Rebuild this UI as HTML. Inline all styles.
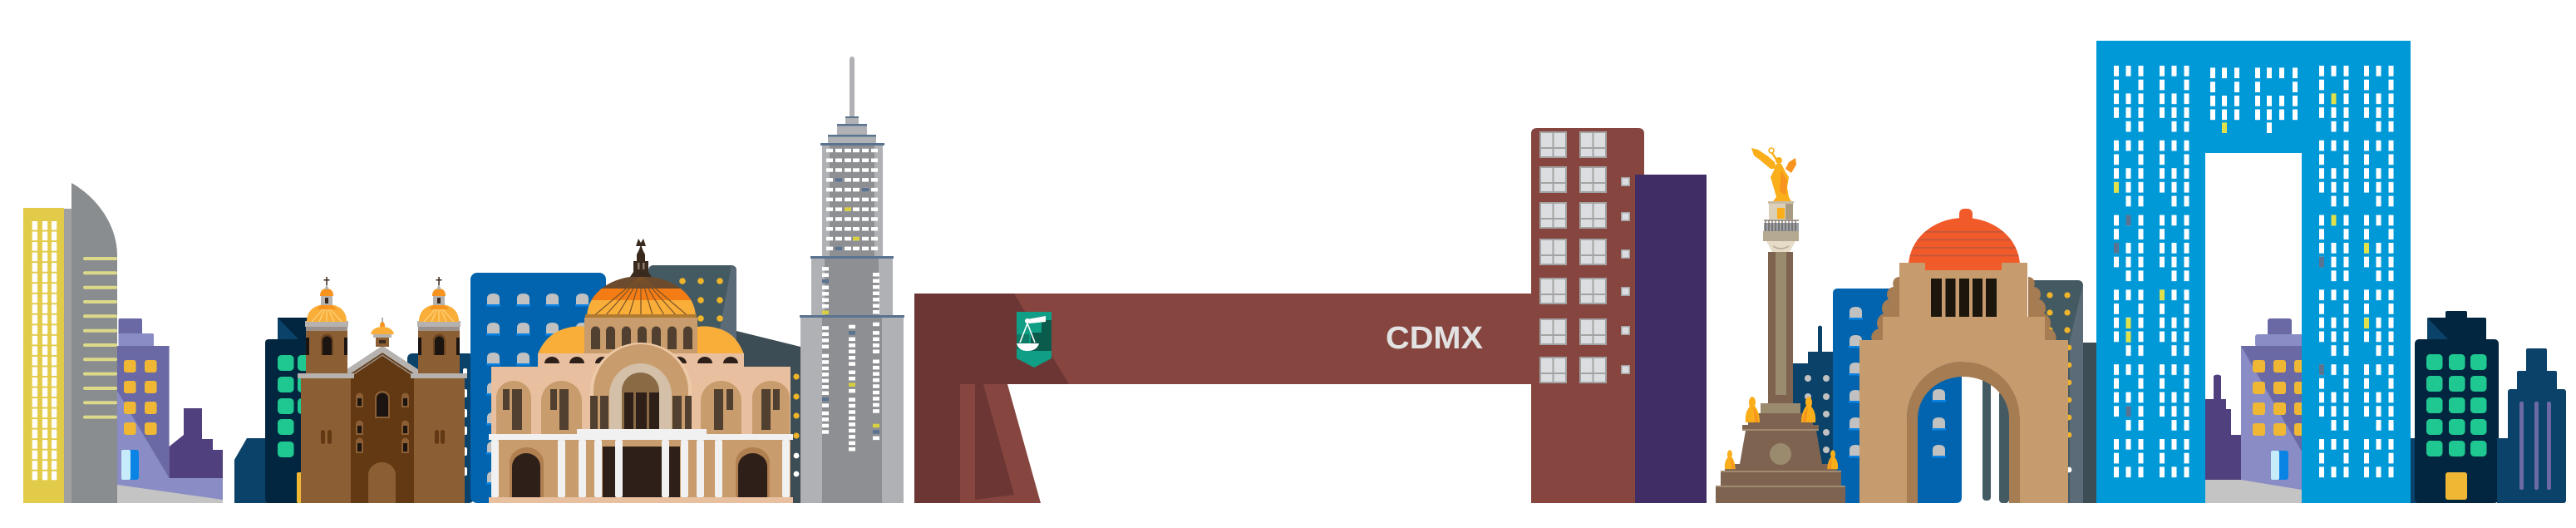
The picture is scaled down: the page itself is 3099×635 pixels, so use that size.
<!DOCTYPE html>
<html><head><meta charset="utf-8"><style>
html,body{margin:0;padding:0;background:#fff;}
svg{display:block;}
</style></head><body>
<svg xmlns="http://www.w3.org/2000/svg" width="3099" height="635" viewBox="0 0 3099 635">
<defs>
<pattern id="yw" patternUnits="userSpaceOnUse" width="200" height="12.53">
<rect x="0" y="0" width="6.4" height="10.6" fill="#fff"/><rect x="12.4" y="0" width="6.2" height="10.6" fill="#fff"/><rect x="23.4" y="0" width="6.2" height="10.6" fill="#fff"/>
</pattern>
<pattern id="aw" patternUnits="userSpaceOnUse" width="200" height="89.8">
<rect x="0" y="0" width="6" height="12.7" fill="#fff"/><rect x="0" y="16.7" width="6" height="12.7" fill="#fff"/><rect x="0" y="33.4" width="6" height="12.7" fill="#fff"/><rect x="0" y="50.1" width="6" height="12.7" fill="#fff"/>
<rect x="14.5" y="0" width="6" height="12.7" fill="#fff"/><rect x="14.5" y="33.4" width="6" height="12.7" fill="#fff"/><rect x="14.5" y="50.1" width="6" height="12.7" fill="#fff"/><rect x="14.5" y="66.8" width="6" height="12.7" fill="#fff"/>
<rect x="29.5" y="0" width="6" height="12.7" fill="#fff"/><rect x="29.5" y="16.7" width="6" height="12.7" fill="#fff"/><rect x="29.5" y="33.4" width="6" height="12.7" fill="#fff"/><rect x="29.5" y="50.1" width="6" height="12.7" fill="#fff"/><rect x="29.5" y="66.8" width="6" height="12.7" fill="#fff"/>
</pattern>
<pattern id="tw" patternUnits="userSpaceOnUse" width="200" height="11.79">
<rect x="0" y="0" width="8" height="4.5" fill="#fff"/><rect x="11" y="0" width="8" height="4.5" fill="#fff"/><rect x="22" y="0" width="8" height="4.5" fill="#fff"/><rect x="32" y="0" width="8" height="4.5" fill="#fff"/><rect x="43" y="0" width="8" height="4.5" fill="#fff"/><rect x="54" y="0" width="8" height="4.5" fill="#fff"/>
</pattern>
<g id="mw"><rect x="0" y="0" width="33" height="32" fill="#a3a3a3"/><rect x="2" y="2" width="13.5" height="17" fill="#dcdde0"/><rect x="17.5" y="2" width="13.5" height="17" fill="#dcdde0"/><rect x="2" y="21" width="13.5" height="9" fill="#dcdde0"/><rect x="17.5" y="21" width="13.5" height="9" fill="#dcdde0"/></g>
<g id="sq"><rect x="0" y="0" width="11" height="11" fill="#a3a3a3"/><rect x="1.5" y="1.5" width="8" height="8" fill="#dcdde0"/></g>
<g id="gw"><path d="M0,14 V6 Q0,0 7.5,0 Q15,0 15,6 V14 Z" fill="#c1c1c1"/><rect x="-1" y="13" width="17" height="2.5" fill="#0a84e4"/></g>
<g id="gn"><rect x="0" y="0" width="19.5" height="19" rx="4.5" fill="#20c891"/></g>
<g id="st"><path d="M0,38 C-1,28 2,22 5,19 C3,15 4,8 8,7 C12,8 13,14 11,18 C15,23 17,30 17,38 Z" fill="#f9ae1a"/><path d="M9,20 C13,24 15,31 15,38 L11,38 C11,31 10,25 9,20 Z" fill="#f7931e"/></g>
<clipPath id="dc"><path d="M706,382 C706,352 736,332 771,332 C806,332 837,352 837,382 Z"/></clipPath>
<clipPath id="rc"><path d="M2296,318 C2298,285 2328,262 2363,262 C2398,262 2428,285 2430,318 L2430,330 L2296,330 Z"/></clipPath>
</defs>

<!-- ================= LEFT GROUP ================= -->
<path d="M86,605 L86,220 C118,238 141,272 141,307 L141,605 Z" fill="#8a8d8f"/>
<g fill="#dcd98a">
<rect x="100" y="309" width="41" height="4" rx="2"/><rect x="100" y="326.3" width="41" height="4" rx="2"/><rect x="100" y="343.7" width="41" height="4" rx="2"/><rect x="100" y="361" width="41" height="4" rx="2"/><rect x="100" y="378.3" width="41" height="4" rx="2"/><rect x="100" y="395.7" width="41" height="4" rx="2"/><rect x="100" y="413" width="41" height="4" rx="2"/><rect x="100" y="430.3" width="41" height="4" rx="2"/><rect x="100" y="447.6" width="41" height="4" rx="2"/><rect x="100" y="465" width="41" height="4" rx="2"/><rect x="100" y="482.3" width="41" height="4" rx="2"/><rect x="100" y="499.6" width="41" height="4" rx="2"/>
</g>
<rect x="77" y="251" width="9" height="354" fill="#a0a0a0"/>
<rect x="28" y="250" width="49" height="355" fill="#e3cb4a"/>
<rect x="0" y="0" width="31" height="312" fill="url(#yw)" transform="translate(38.6,266)"/>

<!-- purple building -->
<rect x="142.5" y="383" width="28.5" height="20" rx="2" fill="#6a69a5"/>
<rect x="142.5" y="401" width="42.5" height="16" rx="2" fill="#8a8cc5"/>
<rect x="141" y="416" width="62.6" height="189" fill="#6a69a5"/>
<polygon points="141,470 203.6,575 268,575 268,605 141,605" fill="#8a8cc5"/>
<path d="M203.6,575 L203.6,537 L221,523 L221,491 L243,491 L243,528 L256,528 L256,541 L268,541 L268,575 Z" fill="#50407e"/>
<polygon points="141,583 268,601 268,605 141,605" fill="#c4c4c4"/>
<g fill="#efb734">
<rect x="149" y="433" width="14.6" height="15" rx="3"/><rect x="174" y="433" width="14.6" height="15" rx="3"/>
<rect x="149" y="458" width="14.6" height="15" rx="3"/><rect x="174" y="458" width="14.6" height="15" rx="3"/>
<rect x="149" y="483" width="14.6" height="15" rx="3"/><rect x="174" y="483" width="14.6" height="15" rx="3"/>
<rect x="149" y="508" width="14.6" height="15" rx="3"/><rect x="174" y="508" width="14.6" height="15" rx="3"/>
</g>
<rect x="146" y="541" width="21" height="36" rx="3" fill="#0a84e4"/>
<rect x="146" y="541" width="11" height="36" rx="2" fill="#c6ebfb"/>

<!-- navy group behind church -->
<path d="M282,605 L282,553 L297,527 L345,527 L345,605 Z" fill="#0b4269"/>
<rect x="319" y="408" width="60" height="197" rx="4" fill="#02263f"/>
<rect x="334" y="382" width="37" height="30" fill="#02263f"/>
<polygon points="334,382 359,408 334,408" fill="#0b4269"/>
<use href="#gn" x="334" y="427"/><use href="#gn" x="334" y="453"/><use href="#gn" x="334" y="479"/><use href="#gn" x="334" y="504"/><use href="#gn" x="334" y="531"/>
<use href="#gn" x="358" y="427"/><use href="#gn" x="358" y="453"/><use href="#gn" x="358" y="479"/>
<rect x="357" y="568" width="8" height="37" rx="2" fill="#efb734"/>
<rect x="490" y="425" width="80" height="180" rx="6" fill="#0b4269"/>
<g fill="#fff"><rect x="557" y="443" width="5" height="10" rx="2"/><rect x="557" y="468" width="5" height="10" rx="2"/><rect x="557" y="492" width="5" height="10" rx="2"/><rect x="557" y="513" width="5" height="10" rx="2"/><rect x="557" y="538" width="5" height="10" rx="2"/><rect x="557" y="562" width="5" height="10" rx="2"/></g>

<!-- church -->
<polygon points="422,605 422,449 460,424 498,449 498,605" fill="#623913"/>
<polyline points="413,451 460,420 507,451" fill="none" stroke="#b5b2af" stroke-width="7"/>
<polyline points="418,455 460,427 502,455" fill="none" stroke="#9b908a" stroke-width="1.5"/>
<!-- small center dome -->
<rect x="452" y="406" width="16" height="11" fill="#8b5e34"/><rect x="456" y="409" width="8" height="4" fill="#3a2a1e"/>
<rect x="449" y="401" width="22" height="5" fill="#b5b2af"/>
<path d="M446,402 C447,396 453,393 460,393 C467,393 473,396 474,402 Z" fill="#f9ae3a"/>
<path d="M457,393 C457,389 458,387 460,387 C462,387 463,389 463,393 Z" fill="#f7931e"/>
<rect x="459.3" y="382" width="1.4" height="6" fill="#8a8a8a"/>
<!-- left tower -->
<g id="tw1">
<rect x="368" y="398" width="50" height="52" fill="#8b5e34"/>
<path d="M386,427 V409 A7.5,7.5 0 0 1 401,409 V427 Z" fill="#6b4520"/>
<path d="M388,427 V410 A5.5,5.5 0 0 1 399,410 V427 Z" fill="#1c1410"/>
<rect x="368" y="406" width="4" height="21" fill="#1c1410"/><rect x="414" y="406" width="4" height="21" fill="#1c1410"/>
<rect x="367" y="386" width="52" height="7" fill="#b5b2af"/>
<rect x="368" y="393" width="50" height="5" fill="#9b908a"/>
<path d="M369,387 C369,372 380,366 393,366 C406,366 417,372 417,387 Z" fill="#f9ae3a"/>
<g stroke="#fcd27a" stroke-width="1.3"><line x1="393" y1="367" x2="375" y2="387"/><line x1="393" y1="367" x2="384" y2="387"/><line x1="393" y1="367" x2="393" y2="387"/><line x1="393" y1="367" x2="402" y2="387"/><line x1="393" y1="367" x2="411" y2="387"/></g>
<path d="M381,372 C384,368 388,366 393,366 C398,366 402,368 405,372 Z" fill="#f7931e"/>
<rect x="386" y="355" width="14" height="12" fill="#b5b2af"/><rect x="391" y="358" width="4" height="7" fill="#3a2a1e"/>
<path d="M385,356 C385,349 389,347 393,347 C397,347 401,349 401,356 Z" fill="#f7931e"/>
<path d="M390.5,348 L393,341 L395.5,348 Z" fill="#b5b2af"/>
<rect x="392.3" y="333" width="1.5" height="10" fill="#3a2a1e"/><rect x="389.5" y="336" width="7" height="1.5" fill="#3a2a1e"/>
</g>
<use href="#tw1" x="135" y="0"/>
<rect x="358" y="449" width="68" height="6" fill="#b5b2af"/>
<rect x="494" y="449" width="68" height="6" fill="#b5b2af"/>
<rect x="362" y="455" width="60" height="150" fill="#8b5e34"/>
<rect x="498" y="455" width="61" height="150" fill="#8b5e34"/>
<g fill="#623913">
<rect x="386" y="517" width="5" height="17" rx="2.5"/><rect x="394" y="517" width="5" height="17" rx="2.5"/>
<rect x="523" y="517" width="5" height="17" rx="2.5"/><rect x="530" y="517" width="5" height="17" rx="2.5"/>
</g>
<path d="M451,503 V478 A9,8 0 0 1 469,478 V503 Z" fill="#8b5e34"/>
<path d="M453,501 V479 A7,6.5 0 0 1 467,479 V501 Z" fill="#1c1410"/>
<g fill="#8b5e34">
<path d="M428,490 V477 A4.5,4.5 0 0 1 437,477 V490 Z"/><path d="M483,490 V477 A4.5,4.5 0 0 1 492,477 V490 Z"/>
<path d="M428,523 V510 A4.5,4.5 0 0 1 437,510 V523 Z"/><path d="M483,523 V510 A4.5,4.5 0 0 1 492,510 V523 Z"/>
<path d="M428,545 V531 A4.5,4.5 0 0 1 437,531 V545 Z"/><path d="M483,545 V531 A4.5,4.5 0 0 1 492,531 V545 Z"/>
</g>
<g fill="#1c1410">
<rect x="430" y="479" width="5" height="9"/><rect x="485" y="479" width="5" height="9"/>
<rect x="430" y="512" width="5" height="9"/><rect x="485" y="512" width="5" height="9"/>
<rect x="430" y="533" width="5" height="10"/><rect x="485" y="533" width="5" height="10"/>
</g>
<path d="M443,605 V571 A16.5,15 0 0 1 476,571 V605 Z" fill="#8b5e34"/>

<!-- blue building -->
<rect x="566" y="328" width="163" height="277" rx="8" fill="#0263ae"/>
<use href="#gw" x="586" y="353"/><use href="#gw" x="622" y="353"/><use href="#gw" x="657" y="353"/><use href="#gw" x="693" y="353"/>
<use href="#gw" x="586" y="388"/><use href="#gw" x="622" y="388"/><use href="#gw" x="657" y="388"/><use href="#gw" x="693" y="388"/>
<use href="#gw" x="586" y="424"/><use href="#gw" x="622" y="424"/><use href="#gw" x="657" y="424"/><use href="#gw" x="693" y="424"/>
<use href="#gw" x="586" y="460"/><use href="#gw" x="586" y="496"/><use href="#gw" x="586" y="531"/><use href="#gw" x="586" y="567"/>

<!-- slate buildings -->
<rect x="780" y="319" width="106" height="286" rx="6" fill="#445a63"/>
<polygon points="880,319 886,325 886,441 858,441" fill="#5b6b78"/>
<g fill="#f0b429"><circle cx="821" cy="338" r="3.8"/><circle cx="843" cy="338" r="3.8"/><circle cx="866" cy="338" r="3.8"/><circle cx="821" cy="361" r="3.8"/><circle cx="843" cy="361" r="3.8"/><circle cx="866" cy="361" r="3.8"/><circle cx="821" cy="383" r="3.8"/><circle cx="843" cy="383" r="3.8"/><circle cx="866" cy="383" r="3.8"/></g>
<polygon points="886,398 963,417 963,605 886,605" fill="#3d4d55"/>
<g fill="#f0b429"><circle cx="958" cy="453" r="3.6"/><circle cx="958" cy="477" r="3.6"/><circle cx="958" cy="500" r="3.6"/><circle cx="958" cy="524" r="3.6"/></g>
<g fill="#fff"><circle cx="958" cy="548" r="3.4"/><circle cx="958" cy="570" r="3.4"/></g>

<!-- Palacio de Bellas Artes -->
<path d="M647,426 C652,413 662,400 680,395 C690,392 698,392 703,393 L703,426 Z" fill="#f9ae3a"/>
<path d="M839,393 C846,392 854,392 864,395 C882,400 890,413 895,426 L839,426 Z" fill="#f9ae3a"/>
<rect x="703" y="382" width="136" height="44" fill="#c89c6c"/>
<g fill="#51402f">
<path d="M711,420 V398 A5.5,5.5 0 0 1 722,398 V420 Z"/><path d="M729,420 V398 A5.5,5.5 0 0 1 740,398 V420 Z"/><path d="M748,420 V398 A5.5,5.5 0 0 1 759,398 V420 Z"/><path d="M767,420 V398 A5.5,5.5 0 0 1 778,398 V420 Z"/><path d="M784,420 V398 A5.5,5.5 0 0 1 795,398 V420 Z"/><path d="M803,420 V398 A5.5,5.5 0 0 1 814,398 V420 Z"/><path d="M822,420 V398 A5.5,5.5 0 0 1 833,398 V420 Z"/>
</g>
<g clip-path="url(#dc)">
<rect x="700" y="330" width="140" height="17" fill="#6b4a2e"/>
<rect x="700" y="347" width="140" height="14" fill="#f47c14"/>
<rect x="700" y="361" width="140" height="22" fill="#f9ae3a"/>
<g stroke="#7a5228" stroke-width="1.2"><line x1="771" y1="332" x2="712" y2="382"/><line x1="771" y1="332" x2="726" y2="382"/><line x1="771" y1="332" x2="741" y2="382"/><line x1="771" y1="332" x2="756" y2="382"/><line x1="771" y1="332" x2="771" y2="382"/><line x1="771" y1="332" x2="786" y2="382"/><line x1="771" y1="332" x2="801" y2="382"/><line x1="771" y1="332" x2="816" y2="382"/><line x1="771" y1="332" x2="830" y2="382"/></g>
</g>
<rect x="704" y="378" width="134" height="4" fill="#b07a30"/>
<path d="M758,333 L762,327 L762,314 L766,314 L766,306 L769,300 L771,294 L773,300 L776,306 L776,314 L780,314 L780,327 L784,333 Z" fill="#3a2a1e"/>
<path d="M765,296 L768,287 L771,292 L774,287 L777,296 Z" fill="#3a2a1e"/>
<rect x="767" y="316" width="2.5" height="8" fill="#8a7a6a"/><rect x="773" y="316" width="2.5" height="8" fill="#8a7a6a"/>
<rect x="647" y="425" width="248" height="17" fill="#e8c0a0"/>
<g fill="#2e2019">
<path d="M655,437 A9,8 0 0 1 673,437 Z"/><path d="M685,437 A9,8 0 0 1 703,437 Z"/><path d="M716,437 A9,8 0 0 1 734,437 Z"/><path d="M808,437 A9,8 0 0 1 826,437 Z"/><path d="M839,437 A9,8 0 0 1 857,437 Z"/><path d="M870,437 A9,8 0 0 1 888,437 Z"/>
</g>
<rect x="591" y="441" width="360" height="164" fill="#e8c0a0"/>
<path d="M710,522 V470 A61,58 0 0 1 832,470 V522 Z" fill="#eec9a8"/>
<path d="M714,522 V470 A57,56 0 0 1 828,470 V522 Z" fill="#c89c6c"/>
<path d="M733,522 V475 A37.5,38 0 0 1 808,475 V522 Z" fill="#d4c0a8"/>
<path d="M748,522 V470 A22.5,22 0 0 1 793,470 V522 Z" fill="#8a6a45"/>
<g fill="#2e2019"><rect x="751" y="472" width="11" height="50"/><rect x="765" y="472" width="13" height="50"/><rect x="781" y="472" width="12" height="50"/></g>
<g fill="#51402f"><rect x="710" y="476" width="9" height="41"/><rect x="722" y="476" width="10" height="41"/><rect x="809" y="476" width="11" height="41"/><rect x="824" y="476" width="8" height="41"/></g>
<g fill="#c89c6c">
<path d="M597,522 V478 A21,20 0 0 1 639,478 V522 Z"/><path d="M651,522 V482 A24.5,24 0 0 1 700,482 V522 Z"/><path d="M843,522 V482 A24.5,24 0 0 1 892,482 V522 Z"/><path d="M905,522 V478 A22.5,20 0 0 1 950,478 V522 Z"/>
</g>
<g fill="#51402f">
<rect x="605" y="468" width="8" height="25"/><rect x="616" y="468" width="12" height="49"/>
<rect x="662" y="468" width="8" height="25"/><rect x="673" y="468" width="11" height="49"/>
<rect x="859" y="468" width="11" height="49"/><rect x="874" y="468" width="8" height="25"/>
<rect x="916" y="468" width="11" height="49"/><rect x="930" y="468" width="8" height="25"/>
</g>
<rect x="591" y="529" width="360" height="69" fill="#c89c6c"/>
<rect x="725" y="537" width="93" height="61" fill="#2e2019"/>
<path d="M613,598 V556 A20.5,18 0 0 1 654,556 V598 Z" fill="#b08050"/>
<path d="M616,598 V561 A17,16 0 0 1 650,561 V598 Z" fill="#2e2019"/>
<path d="M885,598 V556 A20.5,18 0 0 1 926,556 V598 Z" fill="#b08050"/>
<path d="M888,598 V561 A17.5,16 0 0 1 923,561 V598 Z" fill="#2e2019"/>
<rect x="588" y="522" width="366" height="7" fill="#f1f1f1"/>
<rect x="694" y="516" width="156" height="7" fill="#f1f1f1"/>
<g fill="#f1f1f1">
<rect x="591" y="529" width="9" height="69" rx="2"/><rect x="671" y="529" width="9" height="69" rx="2"/><rect x="696" y="529" width="9" height="69" rx="2"/><rect x="715" y="529" width="9" height="69" rx="2"/><rect x="740" y="529" width="9" height="69" rx="2"/><rect x="796" y="529" width="9" height="69" rx="2"/><rect x="819" y="529" width="9" height="69" rx="2"/><rect x="838" y="529" width="9" height="69" rx="2"/><rect x="860" y="529" width="9" height="69" rx="2"/><rect x="941" y="529" width="9" height="69" rx="2"/>
</g>
<rect x="588" y="598" width="366" height="7" fill="#e8c0a0"/>

<!-- Torre Latinoamericana -->
<rect x="1022" y="68" width="6" height="76" rx="3" fill="#b0b1b5"/>
<rect x="1017" y="140" width="16" height="10" fill="#b0b1b5"/><rect x="1017" y="140" width="16" height="2" fill="#5a7390"/>
<rect x="1007" y="149" width="36" height="14" fill="#b0b1b5"/><rect x="1007" y="149" width="36" height="2.5" fill="#5a7390"/>
<rect x="996" y="162" width="58" height="12" fill="#b0b1b5"/><rect x="996" y="162" width="58" height="2.5" fill="#5a7390"/>
<rect x="989" y="173" width="73" height="137" fill="#b0b1b5"/>
<rect x="998" y="175" width="54" height="135" fill="#8e8f93"/>
<rect x="987" y="172" width="77" height="3" fill="#5a7390"/>
<rect x="976" y="309" width="98" height="72" fill="#b0b1b5"/>
<rect x="992" y="311" width="65" height="70" fill="#8e8f93"/>
<rect x="975" y="308" width="100" height="3" fill="#5a7390"/>
<rect x="963" y="380" width="124" height="225" fill="#b0b1b5"/>
<rect x="989" y="382" width="72" height="223" fill="#8e8f93"/>
<rect x="962" y="379" width="126" height="3" fill="#5a7390"/>
<rect x="0" y="0" width="62" height="123" fill="url(#tw)" transform="translate(994,178.7)"/>
<g fill="#5a7390"><rect x="1005" y="214.1" width="8" height="4.5"/><rect x="1037" y="225.9" width="8" height="4.5"/><rect x="1005" y="296.6" width="8" height="4.5"/></g>
<g fill="#d8d040"><rect x="1016" y="249.4" width="8" height="4.5"/><rect x="1026" y="284.8" width="8" height="4.5"/></g>
<g fill="#fff">
<rect x="989" y="321" width="8" height="4.5"/><rect x="989" y="328.5" width="8" height="4.5"/><rect x="989" y="343.5" width="8" height="4.5"/><rect x="989" y="351" width="8" height="4.5"/><rect x="989" y="358.5" width="8" height="4.5"/><rect x="989" y="366" width="8" height="4.5"/>
<rect x="1050" y="328" width="8" height="4.5"/><rect x="1050" y="335.5" width="8" height="4.5"/><rect x="1050" y="343" width="8" height="4.5"/><rect x="1050" y="350.5" width="8" height="4.5"/><rect x="1050" y="358" width="8" height="4.5"/><rect x="1050" y="365.5" width="8" height="4.5"/><rect x="1050" y="373" width="8" height="4.5"/>
<rect x="989" y="392.2" width="8" height="4.5"/><rect x="989" y="399.6" width="8" height="4.5"/><rect x="989" y="407.1" width="8" height="4.5"/><rect x="989" y="414.6" width="8" height="4.5"/><rect x="989" y="425.7" width="8" height="4.5"/><rect x="989" y="433.2" width="8" height="4.5"/><rect x="989" y="440.7" width="8" height="4.5"/><rect x="989" y="448.1" width="8" height="4.5"/><rect x="989" y="455.6" width="8" height="4.5"/><rect x="989" y="463.1" width="8" height="4.5"/><rect x="989" y="470.5" width="8" height="4.5"/><rect x="989" y="485.4" width="8" height="4.5"/><rect x="989" y="494.8" width="8" height="4.5"/><rect x="989" y="502.2" width="8" height="4.5"/><rect x="989" y="509.7" width="8" height="4.5"/><rect x="989" y="517.2" width="8" height="4.5"/>
<rect x="1021" y="390.7" width="8" height="4.5"/><rect x="1021" y="405.6" width="8" height="4.5"/><rect x="1021" y="413.1" width="8" height="4.5"/><rect x="1021" y="420.5" width="8" height="4.5"/><rect x="1021" y="428" width="8" height="4.5"/><rect x="1021" y="435.4" width="8" height="4.5"/><rect x="1021" y="445.5" width="8" height="4.5"/><rect x="1021" y="453" width="8" height="4.5"/><rect x="1021" y="467.9" width="8" height="4.5"/><rect x="1021" y="478.4" width="8" height="4.5"/><rect x="1021" y="485.8" width="8" height="4.5"/><rect x="1021" y="493.3" width="8" height="4.5"/><rect x="1021" y="500.7" width="8" height="4.5"/><rect x="1021" y="508.2" width="8" height="4.5"/><rect x="1021" y="515.7" width="8" height="4.5"/><rect x="1021" y="523.1" width="8" height="4.5"/><rect x="1021" y="530.6" width="8" height="4.5"/><rect x="1021" y="538" width="8" height="4.5"/>
<rect x="1050" y="387.7" width="8" height="4.5"/><rect x="1050" y="398.1" width="8" height="4.5"/><rect x="1050" y="405.6" width="8" height="4.5"/><rect x="1050" y="413.1" width="8" height="4.5"/><rect x="1050" y="420.5" width="8" height="4.5"/><rect x="1050" y="432.5" width="8" height="4.5"/><rect x="1050" y="439.9" width="8" height="4.5"/><rect x="1050" y="447.4" width="8" height="4.5"/><rect x="1050" y="454.9" width="8" height="4.5"/><rect x="1050" y="462.3" width="8" height="4.5"/><rect x="1050" y="469.8" width="8" height="4.5"/><rect x="1050" y="477.2" width="8" height="4.5"/><rect x="1050" y="484.7" width="8" height="4.5"/><rect x="1050" y="492.2" width="8" height="4.5"/><rect x="1050" y="524.6" width="8" height="4.5"/>
</g>
<g fill="#5a7390"><rect x="989" y="336" width="8" height="4.5"/><rect x="989" y="478" width="8" height="4.5"/><rect x="1021" y="398.1" width="8" height="4.5"/><rect x="1050" y="517.2" width="8" height="4.5"/></g>
<g fill="#d8d040"><rect x="989" y="373.5" width="8" height="4.5"/><rect x="1021" y="460.4" width="8" height="4.5"/><rect x="1050" y="509.7" width="8" height="4.5"/></g>

<!-- CDMX arch -->
<rect x="1100" y="353" width="750" height="109" fill="#86463f"/>
<polygon points="1100,353 1220,353 1286,462 1100,462" fill="#6b3634"/>
<polygon points="1100,462 1212,462 1252,605 1100,605" fill="#86463f"/>
<rect x="1100" y="462" width="55" height="143" fill="#6b3634"/>
<polygon points="1173,462 1183,462 1220,595 1173,601" fill="#6b3634"/>
<path d="M1223,375 H1265 V431 L1244,442 L1223,431 Z" fill="#109e86"/>
<rect x="1240" y="400" width="25" height="22" fill="#0b5b4c"/>
<rect x="1253" y="385" width="12" height="20" fill="#0b5b4c"/>
<rect x="1223" y="402" width="15" height="18" fill="#0d7a66"/>
<circle cx="1236" cy="386" r="3" fill="#fff"/>
<path d="M1236,384 L1258,380 L1258,387 L1238,389 Z" fill="#fff"/>
<line x1="1236" y1="389" x2="1227" y2="412" stroke="#fff" stroke-width="1.6"/>
<line x1="1236" y1="389" x2="1245" y2="412" stroke="#fff" stroke-width="1.6"/>
<path d="M1223,413 H1250 C1248,420 1242,422 1236,422 C1230,422 1225,420 1223,413 Z" fill="#fff"/>
<text x="1667" y="419" font-family="'Liberation Sans', 'DejaVu Sans', sans-serif" font-weight="bold" font-size="38" fill="#e2e2e2" textLength="117" lengthAdjust="spacingAndGlyphs">CDMX</text>

<!-- maroon building -->
<path d="M1842,605 V161 Q1842,154 1849,154 H1971 Q1978,154 1978,161 V605 Z" fill="#86463f"/>
<use href="#mw" x="1852" y="158"/><use href="#mw" x="1900" y="158"/>
<use href="#mw" x="1852" y="200"/><use href="#mw" x="1900" y="200"/>
<use href="#mw" x="1852" y="243"/><use href="#mw" x="1900" y="243"/>
<use href="#mw" x="1852" y="287"/><use href="#mw" x="1900" y="287"/>
<use href="#mw" x="1852" y="334"/><use href="#mw" x="1900" y="334"/>
<use href="#mw" x="1852" y="383"/><use href="#mw" x="1900" y="383"/>
<use href="#mw" x="1852" y="429"/><use href="#mw" x="1900" y="429"/>
<use href="#sq" x="1950" y="213"/><use href="#sq" x="1950" y="255"/><use href="#sq" x="1950" y="300"/><use href="#sq" x="1950" y="345"/><use href="#sq" x="1950" y="392"/><use href="#sq" x="1950" y="439"/>
<rect x="1967" y="210" width="86" height="395" fill="#412d66"/>

<!-- ================= RIGHT GROUP ================= -->
<!-- navy small building -->
<path d="M2157,605 V437 H2175 V423 H2187 V393 Q2189.5,390 2192,393 V423 H2207 V605 Z" fill="#0b4269"/>
<g fill="#c1c1c1"><circle cx="2175" cy="455" r="4"/><circle cx="2197" cy="455" r="4"/><circle cx="2175" cy="477" r="4"/><circle cx="2197" cy="477" r="4"/><circle cx="2175" cy="498" r="4"/><circle cx="2197" cy="498" r="4"/><circle cx="2175" cy="520" r="4"/><circle cx="2197" cy="520" r="4"/><circle cx="2197" cy="541" r="4"/></g>
<!-- blue building -->
<path d="M2205,605 V353 Q2205,347 2211,347 H2300 V605 Z" fill="#0263ae"/>
<path d="M2290,605 V420 H2360 V598 Q2360,605 2353,605 Z" fill="#0263ae"/>
<use href="#gw" x="2225" y="369"/><use href="#gw" x="2225" y="403"/><use href="#gw" x="2225" y="436"/><use href="#gw" x="2225" y="469"/><use href="#gw" x="2225" y="502"/><use href="#gw" x="2225" y="535"/>
<use href="#gw" x="2325" y="468"/><use href="#gw" x="2325" y="502"/><use href="#gw" x="2325" y="535"/>
<rect x="2385" y="450" width="10" height="152" rx="4" fill="#445a63"/>
<rect x="2405" y="470" width="12" height="135" rx="4" fill="#445a63"/>
<!-- slate right -->
<rect x="2440" y="337" width="66" height="268" rx="6" fill="#445a63"/>
<polygon points="2506,342 2506,605 2490,605 2490,410" fill="#5b6b78"/>
<g fill="#f0b429"><circle cx="2466" cy="355" r="3.6"/><circle cx="2487" cy="355" r="3.6"/><circle cx="2466" cy="376" r="3.6"/><circle cx="2487" cy="376" r="3.6"/><circle cx="2466" cy="397" r="3.6"/><circle cx="2487" cy="397" r="3.6"/><circle cx="2489" cy="418" r="3.4"/><circle cx="2489" cy="439" r="3.4"/><circle cx="2489" cy="460" r="3.4"/><circle cx="2489" cy="481" r="3.4"/><circle cx="2489" cy="502" r="3.4"/><circle cx="2489" cy="523" r="3.4"/></g>
<circle cx="2489" cy="565" r="3.4" fill="#fff"/>
<rect x="2506" y="412" width="16" height="193" fill="#3d4d55"/>

<!-- Monumento a la Revolucion -->
<path d="M2285,333 C2278,333 2276,340 2278,345 C2270,346 2268,355 2272,360 C2264,362 2262,372 2266,377 C2258,380 2256,390 2260,395 C2252,398 2250,405 2252,409 L2285,409 Z" fill="#a67c52"/>
<path d="M2440,333 C2447,333 2449,340 2447,345 C2455,346 2457,355 2453,360 C2461,362 2463,372 2459,377 C2467,380 2469,390 2465,395 C2473,398 2475,405 2473,409 L2440,409 Z" fill="#a67c52"/>
<rect x="2357" y="251" width="16" height="16" rx="6" fill="#f15a29"/>
<path d="M2296,318 C2298,285 2328,262 2363,262 C2398,262 2428,285 2430,318 L2430,330 L2296,330 Z" fill="#f15a29"/>
<g clip-path="url(#rc)" fill="#c4573a"><rect x="2290" y="278" width="150" height="1.8"/><rect x="2290" y="287.5" width="150" height="1.8"/><rect x="2290" y="297" width="150" height="1.8"/><rect x="2290" y="306.5" width="150" height="1.8"/></g>
<path d="M2285,381 L2285,316 L2316,316 L2316,325 L2408,325 L2408,316 L2439,316 L2439,381 Z" fill="#c69b6e"/>
<g fill="#1c160c"><rect x="2323" y="335" width="13" height="46"/><rect x="2340.5" y="335" width="12" height="46"/><rect x="2357" y="335" width="12" height="46"/><rect x="2373" y="335" width="12" height="46"/><rect x="2389" y="335" width="13" height="46"/></g>
<rect x="2265" y="381" width="195" height="29" fill="#c69b6e"/>
<path fill-rule="evenodd" d="M2237,409 H2488 V605 H2237 Z M2294,605 V503 A68,68 0 0 1 2430,503 V605 Z" fill="#c69b6e"/>
<path fill-rule="evenodd" d="M2294,605 V503 A68,68 0 0 1 2430,503 V605 Z M2307,605 V503 A55,50 0 0 1 2417,503 V605 Z" fill="#a67c52"/>

<!-- Angel de la Independencia -->
<rect x="2064" y="585" width="156" height="20" fill="#7e6450"/>
<rect x="2070" y="567" width="145" height="18" fill="#7e6450"/>
<rect x="2075" y="558" width="135" height="9" fill="#7e6450"/>
<rect x="2064" y="584" width="156" height="2" fill="#a08a70"/>
<rect x="2070" y="566" width="145" height="2" fill="#a08a70"/>
<polygon points="2100,518 2185,518 2192,558 2093,558" fill="#7e6450"/>
<rect x="2096" y="511" width="92" height="7" fill="#7e6450"/>
<rect x="2096" y="516" width="92" height="2" fill="#a08a70"/>
<rect x="2103" y="497" width="78" height="14" fill="#7e6450"/>
<rect x="2118" y="485" width="48" height="12" fill="#9a8a6e"/>
<circle cx="2142" cy="546" r="13" fill="#9a8a6e"/>
<rect x="2127" y="303" width="30" height="182" fill="#7e6450"/>
<rect x="2136" y="303" width="13" height="172" fill="#9a8a6e"/>
<path d="M2125,290 H2160 L2153,303 H2132 Z" fill="#e6dcc8"/>
<path d="M2133,296 Q2142,302 2152,296" stroke="#b5a992" stroke-width="1.5" fill="none"/>
<rect x="2121" y="278" width="43" height="12" fill="#b5a992"/>
<rect x="2122" y="268" width="42" height="10" fill="#9aa0a8"/>
<g stroke="#5a4a3e" stroke-width="1"><line x1="2122" y1="265" x2="2164" y2="265"/><line x1="2124" y1="265" x2="2124" y2="278"/><line x1="2128" y1="265" x2="2128" y2="278"/><line x1="2132" y1="265" x2="2132" y2="278"/><line x1="2136" y1="265" x2="2136" y2="278"/><line x1="2140" y1="265" x2="2140" y2="278"/><line x1="2144" y1="265" x2="2144" y2="278"/><line x1="2148" y1="265" x2="2148" y2="278"/><line x1="2152" y1="265" x2="2152" y2="278"/><line x1="2156" y1="265" x2="2156" y2="278"/><line x1="2160" y1="265" x2="2160" y2="278"/></g>
<rect x="2128" y="243" width="29" height="21" fill="#dcd0b8"/>
<rect x="2148" y="243" width="9" height="21" fill="#a89a80"/>
<rect x="2138" y="250" width="9" height="13" fill="#f9ae1a"/>
<rect x="2127" y="242" width="31" height="3" fill="#c8bca4"/>
<polygon points="2107,178 2115,180 2127,188 2135,195 2137,203 2130,203 2118,193 2110,187" fill="#f9ae1a"/>
<polygon points="2160,190 2152,195 2148,203 2155,208 2161,198" fill="#f7931e"/>
<polygon points="2137,197 2143,197 2148,207 2152,213 2150,225 2152,237 2155,242 2133,242 2137,237 2133,223 2130,213 2135,203" fill="#f9ae1a"/>
<polygon points="2143,205 2150,218 2148,235 2141,230" fill="#f7931e"/>
<circle cx="2140" cy="193" r="4" fill="#f9ae1a"/>
<line x1="2139" y1="195" x2="2132" y2="184" stroke="#f9ae1a" stroke-width="2.5"/>
<circle cx="2131" cy="181" r="3" fill="none" stroke="#f9ae1a" stroke-width="1.6"/>
<use href="#st" transform="translate(2100,470)"/>
<use href="#st" transform="translate(2184,470) scale(-1,1)"/>
<use href="#st" transform="translate(2075,536) scale(0.74)"/>
<use href="#st" transform="translate(2211,536) scale(-0.74,0.74)"/>

<!-- purple buildings inside arcos opening -->
<rect x="2728" y="383" width="29" height="21" rx="3" fill="#6a69a5"/>
<rect x="2713" y="402" width="62" height="15" rx="3" fill="#8a8cc5"/>
<rect x="2696" y="416" width="80" height="189" fill="#6a69a5"/>
<polygon points="2696,416 2769,543 2769,605 2696,605" fill="#8a8cc5"/>
<path d="M2653,577 V480 H2663 V452 Q2667.5,449 2672,452 V480 H2678 V492 H2684 V523 H2696 V577 Z" fill="#50407e"/>
<polygon points="2653,577 2696,577 2769,589 2769,605 2653,605" fill="#c4c4c4"/>
<g fill="#efb734">
<rect x="2710" y="433" width="15" height="15" rx="3"/><rect x="2735" y="433" width="15" height="15" rx="3"/><rect x="2760" y="433" width="15" height="15" rx="3"/>
<rect x="2710" y="459" width="15" height="15" rx="3"/><rect x="2735" y="459" width="15" height="15" rx="3"/><rect x="2760" y="459" width="15" height="15" rx="3"/>
<rect x="2710" y="484" width="15" height="15" rx="3"/><rect x="2735" y="484" width="15" height="15" rx="3"/><rect x="2760" y="484" width="15" height="15" rx="3"/>
<rect x="2710" y="509" width="15" height="15" rx="3"/><rect x="2735" y="509" width="15" height="15" rx="3"/><rect x="2760" y="509" width="15" height="15" rx="3"/>
</g>
<rect x="2732" y="542" width="21" height="35" rx="3" fill="#0a84e4"/>
<rect x="2732" y="542" width="10" height="35" rx="2" fill="#c6ebfb"/>

<!-- Arcos Bosques tower -->
<path fill-rule="evenodd" d="M2522,49 H2900 V605 H2769 V184 H2653 V605 H2522 Z" fill="#0099d8"/>
<rect x="0" y="0" width="36" height="496" fill="url(#aw)" transform="translate(2543,79)"/>
<rect x="0" y="0" width="36" height="496" fill="url(#aw)" transform="translate(2598,79)"/>
<rect x="0" y="0" width="36" height="496" fill="url(#aw)" transform="translate(2790,79)"/>
<rect x="0" y="0" width="36" height="496" fill="url(#aw)" transform="translate(2844,79)"/>
<g fill="#dfe04a"><rect x="2543" y="219.1" width="6" height="12.7"/><rect x="2598" y="348.4" width="6" height="12.7"/><rect x="2557.5" y="382.4" width="6" height="12.7"/><rect x="2557.5" y="399.1" width="6" height="12.7"/><rect x="2804.5" y="112.4" width="6" height="12.7"/><rect x="2804.5" y="258.6" width="6" height="12.7"/><rect x="2844" y="292" width="6" height="12.7"/><rect x="2844" y="382.4" width="6" height="12.7"/></g>
<g fill="#5a7390"><rect x="2557.5" y="258.6" width="6" height="12.7"/><rect x="2543" y="292" width="6" height="12.7"/><rect x="2557.5" y="488.3" width="6" height="12.7"/><rect x="2790" y="308.7" width="6" height="12.7"/><rect x="2790" y="438.2" width="6" height="12.7"/></g>
<g fill="#fff">
<rect x="2659" y="81.4" width="6" height="12.7"/><rect x="2659" y="98.3" width="6" height="12.7"/><rect x="2659" y="115" width="6" height="12.7"/><rect x="2659" y="131.5" width="6" height="12.7"/>
<rect x="2673" y="81.4" width="6" height="12.7"/><rect x="2673" y="115" width="6" height="12.7"/><rect x="2673" y="131.5" width="6" height="12.7"/>
<rect x="2688" y="81.4" width="6" height="12.7"/><rect x="2688" y="98.3" width="6" height="12.7"/><rect x="2688" y="115" width="6" height="12.7"/><rect x="2688" y="131.5" width="6" height="12.7"/>
<rect x="2713" y="81.4" width="6" height="12.7"/><rect x="2713" y="98.3" width="6" height="12.7"/><rect x="2713" y="115" width="6" height="12.7"/><rect x="2713" y="131.5" width="6" height="12.7"/>
<rect x="2727" y="81.4" width="6" height="12.7"/><rect x="2727" y="115" width="6" height="12.7"/><rect x="2727" y="131.5" width="6" height="12.7"/><rect x="2727" y="147.3" width="6" height="12.7"/>
<rect x="2742" y="81.4" width="6" height="12.7"/><rect x="2742" y="115" width="6" height="12.7"/><rect x="2742" y="131.5" width="6" height="12.7"/>
<rect x="2758" y="81.4" width="6" height="12.7"/><rect x="2758" y="98.3" width="6" height="12.7"/><rect x="2758" y="115" width="6" height="12.7"/><rect x="2758" y="131.5" width="6" height="12.7"/>
</g>
<rect x="2673" y="147.3" width="6" height="12.7" fill="#dfe04a"/>

<!-- right navy buildings -->
<rect x="2900" y="527" width="10" height="78" fill="#0b4269"/>
<rect x="2905" y="408" width="101" height="197" rx="5" fill="#02263f"/>
<rect x="2920" y="382" width="71" height="30" rx="2" fill="#02263f"/>
<rect x="2942" y="374" width="26" height="12" rx="2" fill="#02263f"/>
<polygon points="2920,382 2945,408 2920,408" fill="#0b4269"/>
<use href="#gn" x="2919" y="426"/><use href="#gn" x="2946" y="426"/><use href="#gn" x="2972" y="426"/>
<use href="#gn" x="2919" y="452"/><use href="#gn" x="2946" y="452"/><use href="#gn" x="2972" y="452"/>
<use href="#gn" x="2919" y="478"/><use href="#gn" x="2946" y="478"/><use href="#gn" x="2972" y="478"/>
<use href="#gn" x="2919" y="504"/><use href="#gn" x="2946" y="504"/><use href="#gn" x="2972" y="504"/>
<use href="#gn" x="2919" y="530"/><use href="#gn" x="2946" y="530"/><use href="#gn" x="2972" y="530"/>
<rect x="2942" y="568" width="26" height="33" rx="3" fill="#efb734"/>
<rect x="3004" y="527" width="15" height="78" fill="#0b4269"/>
<rect x="3017" y="468" width="70" height="137" rx="3" fill="#0b4269"/>
<rect x="3028" y="446" width="48" height="24" rx="2" fill="#0b4269"/>
<rect x="3039" y="419" width="25" height="30" rx="2" fill="#0b4269"/>
<g fill="#6c6aa6"><rect x="3031" y="483" width="5" height="106" rx="2"/><rect x="3049" y="483" width="5" height="106" rx="2"/><rect x="3064" y="483" width="5" height="106" rx="2"/></g>
</svg>
</body></html>
